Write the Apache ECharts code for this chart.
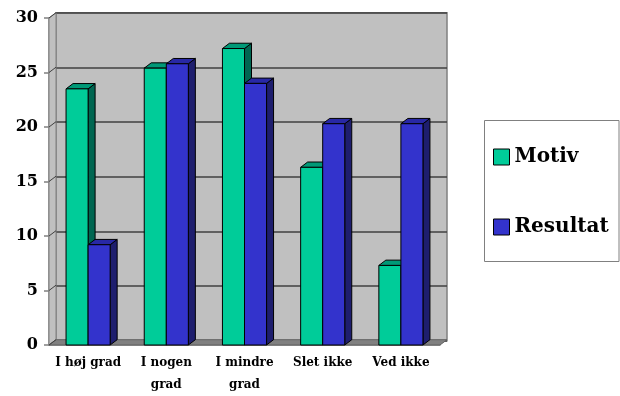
<!DOCTYPE html>
<html>
<head>
<meta charset="utf-8">
<script src="https://cdn.jsdelivr.net/npm/echarts@6/dist/echarts.min.js"></script>
<style>
  html, body { margin: 0; padding: 0; background: #fff; }
  #chart { width: 620px; height: 396px; }
</style>
</head>
<body>
<div id="chart"></div>
<script>
// Survey answers per category
const categories = ['I høj grad', 'I nogen\ngrad', 'I mindre\ngrad', 'Slet ikke', 'Ved ikke'];
const motiv = [23.5, 25.4, 27.2, 16.3, 7.3];
const resultat = [9.2, 25.8, 24.0, 20.3, 20.3];
const seriesNames = ['Motiv', 'Resultat'];
const yMin = 0, yMax = 30, yStep = 5;

// Depth offset of the pseudo-3D box (back plane relative to front plane)
const DX = 7, DY = -5.3;
const FONT = 'DejaVu Serif';
const BAR_FRAC = 0.282;
const faces = {
  Motiv:    { front: '#00CC99', side: '#006651', top: '#009977' },
  Resultat: { front: '#3333CC', side: '#1E1E6E', top: '#2828A5' }
};

function barRenderer(name, shift) {
  const f = faces[name];
  return function (params, api) {
    const cat = api.value(0), val = api.value(1);
    const top = api.coord([cat, val]);
    const base = api.coord([cat, 0]);
    const bw = api.size([1, 0])[0] * BAR_FRAC;
    const x0 = top[0] + shift * bw;
    const x1 = x0 + bw;
    const yt = top[1], yb = base[1];
    const edge = { stroke: '#000', lineWidth: 1, lineJoin: 'round' };
    return {
      type: 'group',
      children: [
        { type: 'polygon', shape: { points: [[x1, yt], [x1 + DX, yt + DY], [x1 + DX, yb + DY], [x1, yb]] },
          style: Object.assign({ fill: f.side }, edge) },
        { type: 'polygon', shape: { points: [[x0, yt], [x0 + DX, yt + DY], [x1 + DX, yt + DY], [x1, yt]] },
          style: Object.assign({ fill: f.top }, edge) },
        { type: 'rect', shape: { x: x0, y: yt, width: bw, height: yb - yt },
          style: Object.assign({ fill: f.front }, edge) }
      ]
    };
  };
}

// Side wall, floor and side-wall grid lines
function wallRenderer(params, api) {
  const cs = params.coordSys;
  const L = cs.x, R = cs.x + cs.width, T = cs.y, B = cs.y + cs.height;
  const children = [
    { type: 'polygon', shape: { points: [[L, B], [L, T], [L + DX, T + DY], [L + DX, B + DY]] },
      style: { fill: '#C0C0C0', stroke: '#808080', lineWidth: 1 } },
    { type: 'polygon', shape: { points: [[L, B], [R, B], [R + DX, B + DY], [L + DX, B + DY]] },
      style: { fill: '#808080', stroke: '#606060', lineWidth: 1 } }
  ];
  for (let v = yMin; v <= yMax; v += yStep) {
    const p = api.coord([0, v]);
    children.push({ type: 'line', shape: { x1: L, y1: p[1], x2: L + DX, y2: p[1] + DY },
      style: { stroke: '#404040', lineWidth: 1 } });
  }
  return { type: 'group', children: children };
}

const chart = echarts.init(document.getElementById('chart'), null, { renderer: 'canvas' });

chart.setOption({
  animation: false,
  backgroundColor: '#fff',
  grid: [
    { // back wall
      left: 56, top: 12.7, width: 391, height: 328,
      show: true, backgroundColor: '#C0C0C0', borderColor: '#808080', borderWidth: 1.5
    },
    { // front plane
      left: 49, top: 18, width: 391, height: 328
    }
  ],
  xAxis: [
    { gridIndex: 0, type: 'category', data: categories, show: false },
    {
      gridIndex: 1, type: 'category', data: categories,
      axisLine: { lineStyle: { color: '#808080', width: 1.5 } },
      axisTick: { length: 6, lineStyle: { color: '#808080', width: 1.5 } },
      axisLabel: {
        interval: 0, margin: 7, color: '#000',
        fontFamily: FONT, fontWeight: 'bold', fontSize: 12, lineHeight: 22
      }
    }
  ],
  yAxis: [
    {
      gridIndex: 0, type: 'value', min: yMin, max: yMax, interval: yStep,
      axisLine: { show: false }, axisTick: { show: false }, axisLabel: { show: false },
      splitLine: { lineStyle: { color: '#404040', width: 1.5 } }
    },
    {
      gridIndex: 1, type: 'value', min: yMin, max: yMax, interval: yStep,
      axisLine: { show: true, lineStyle: { color: '#808080', width: 1.5 } },
      axisTick: { show: true, length: 5, lineStyle: { color: '#808080', width: 1.5 } },
      splitLine: { show: false },
      axisLabel: {
        margin: 11, color: '#000',
        fontFamily: FONT, fontWeight: 'bold', fontSize: 16
      }
    }
  ],
  legend: {
    orient: 'vertical', left: 493, top: 147, padding: 0,
    itemWidth: 16, itemHeight: 16, itemGap: 50,
    selectedMode: false, icon: 'rect',
    data: seriesNames,
    itemStyle: { borderColor: '#000', borderWidth: 1 },
    textStyle: { fontFamily: FONT, fontWeight: 'bold', fontSize: 20, lineHeight: 20, color: '#000' }
  },
  graphic: [
    { type: 'rect', z: 0, shape: { x: 484.5, y: 120.5, width: 134.5, height: 141 },
      style: { fill: '#fff', stroke: '#808080', lineWidth: 1 } }
  ],
  series: [
    {
      type: 'custom', name: 'walls', xAxisIndex: 1, yAxisIndex: 1, silent: true, z: 1,
      renderItem: wallRenderer, data: [[0, 0]]
    },
    {
      type: 'custom', name: seriesNames[0], xAxisIndex: 1, yAxisIndex: 1, z: 3,
      itemStyle: { color: faces.Motiv.front },
      renderItem: barRenderer('Motiv', -1),
      data: motiv.map((v, i) => [i, v])
    },
    {
      type: 'custom', name: seriesNames[1], xAxisIndex: 1, yAxisIndex: 1, z: 3,
      itemStyle: { color: faces.Resultat.front },
      renderItem: barRenderer('Resultat', 0),
      data: resultat.map((v, i) => [i, v])
    }
  ]
});
</script>
</body>
</html>
